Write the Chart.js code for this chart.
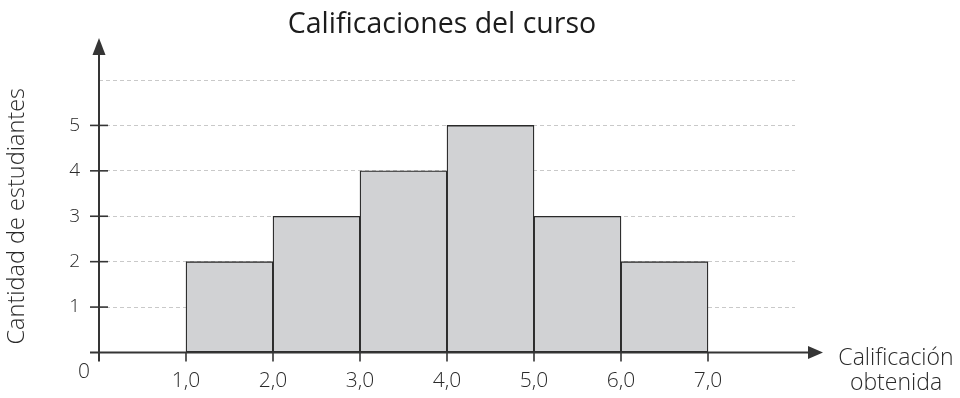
<!DOCTYPE html>
<html>
<head>
<meta charset="utf-8">
<script src="https://cdn.jsdelivr.net/npm/chart.js@4"></script>
<style>
  html, body { margin: 0; padding: 0; background: #fff; }
  #wrap { width: 960px; height: 398px; }
</style>
</head>
<body>
<div id="wrap"><canvas id="histograma"></canvas></div>
<script>
// límites de cada intervalo de calificación y cantidad de estudiantes
const limites = [1, 2, 3, 4, 5, 6, 7];
const estudiantes = [2, 3, 4, 5, 3, 2];
const marcasY = [1, 2, 3, 4, 5];
const tituloGrafico = 'Calificaciones del curso';
const tituloEjeY = 'Cantidad de estudiantes';
const tituloEjeX = ['Calificación', 'obtenida'];

const fuente = "'Open Sans', 'Noto Sans', sans-serif";
const colorEje = '#353535';
const colorTexto = '#2a2a2a';

// cada barra va centrada en su intervalo
const puntos = estudiantes.map((n, i) => ({ x: (limites[i] + limites[i + 1]) / 2, y: n }));

// ejes con flechas, marcas, el cero del origen y los textos sueltos
const ejesPlugin = {
    id: 'ejes',
    afterDraw(chart) {
        const { ctx, scales } = chart;
        const x = scales.x, y = scales.y;
        const x0 = x.getPixelForValue(0);
        const y0 = y.getPixelForValue(0);
        ctx.save();
        ctx.strokeStyle = colorEje;
        ctx.fillStyle = colorEje;
        ctx.lineWidth = 2;

        // eje vertical
        ctx.beginPath();
        ctx.moveTo(x0, y0 + 9);
        ctx.lineTo(x0, 50);
        ctx.stroke();
        ctx.beginPath();
        ctx.moveTo(x0, 38);
        ctx.lineTo(x0 - 6.5, 55);
        ctx.lineTo(x0 + 6.5, 55);
        ctx.closePath();
        ctx.fill();

        // eje horizontal
        ctx.beginPath();
        ctx.moveTo(x0 - 9, y0);
        ctx.lineTo(812, y0);
        ctx.stroke();
        ctx.beginPath();
        ctx.moveTo(823, y0);
        ctx.lineTo(808, y0 - 6.5);
        ctx.lineTo(808, y0 + 6.5);
        ctx.closePath();
        ctx.fill();

        // marcas
        ctx.lineWidth = 1.6;
        marcasY.forEach(v => {
            const py = y.getPixelForValue(v);
            ctx.beginPath();
            ctx.moveTo(x0 - 9, py);
            ctx.lineTo(x0 + 9, py);
            ctx.stroke();
        });
        limites.forEach(v => {
            const px = x.getPixelForValue(v);
            ctx.beginPath();
            ctx.moveTo(px, y0);
            ctx.lineTo(px, y0 + 9);
            ctx.stroke();
        });

        ctx.fillStyle = colorTexto;
        ctx.textAlign = 'center';
        ctx.textBaseline = 'alphabetic';
        ctx.font = '300 21px ' + fuente;
        ctx.fillText('0', x0 - 15, 378);

        ctx.font = '300 23px ' + fuente;
        ctx.fillText(tituloEjeX[0], 896, 365);
        ctx.fillText(tituloEjeX[1], 896, 390);

        ctx.fillStyle = '#1c1c1c';
        ctx.font = '28.5px ' + fuente;
        ctx.fillText(tituloGrafico, 442, 33);
        ctx.restore();
    }
};

new Chart(document.getElementById('histograma'), {
    type: 'bar',
    data: {
        datasets: [{
            data: puntos,
            backgroundColor: '#d1d2d4',
            borderColor: '#2a2a2a',
            borderWidth: 1.3,
            borderSkipped: false,
            barPercentage: 1,
            categoryPercentage: 1
        }]
    },
    options: {
        responsive: true,
        maintainAspectRatio: false,
        animation: false,
        layout: { padding: { top: 80, right: 165, left: 0, bottom: 0 } },
        plugins: {
            legend: { display: false },
            tooltip: { enabled: false }
        },
        scales: {
            x: {
                type: 'linear',
                min: 0,
                max: 8,
                offset: false,
                afterFit: (scale) => { scale.height = 45.5; },
                grid: { display: false, drawTicks: false, tickLength: 0 },
                border: { display: false },
                ticks: {
                    stepSize: 1,
                    padding: 16,
                    autoSkip: false,
                    maxRotation: 0,
                    color: colorTexto,
                    font: { family: fuente, size: 21, weight: '300' },
                    callback: (v) => limites.includes(v) ? v.toFixed(1).replace('.', ',') : ''
                }
            },
            y: {
                min: 0,
                max: 6,
                afterFit: (scale) => { scale.width = 99; },
                grid: {
                    drawTicks: false,
                    tickLength: 0,
                    lineWidth: 1,
                    color: (c) => c.tick && c.tick.value === 0 ? 'rgba(0,0,0,0)' : '#c9c9c9'
                },
                border: { display: false, dash: [4, 3] },
                ticks: {
                    stepSize: 1,
                    padding: 19,
                    color: colorTexto,
                    font: { family: fuente, size: 19, weight: '300' },
                    callback: (v) => marcasY.includes(v) ? String(v) : ''
                },
                title: {
                    display: true,
                    text: tituloEjeY,
                    color: colorTexto,
                    font: { family: fuente, size: 23.5, weight: '300' },
                    padding: { top: 3, bottom: 0 }
                }
            }
        }
    },
    plugins: [ejesPlugin]
});
</script>
</body>
</html>
